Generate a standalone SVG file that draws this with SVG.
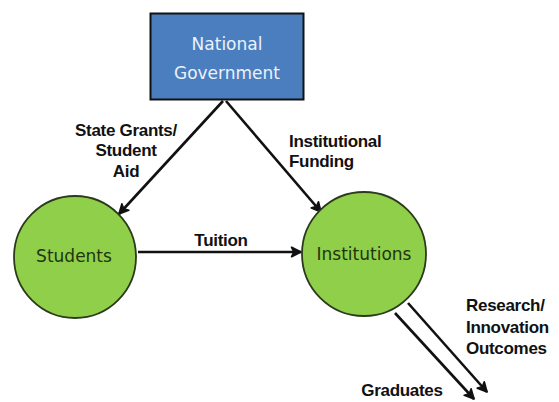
<svg xmlns="http://www.w3.org/2000/svg" width="559" height="402" viewBox="0 0 559 402">
<style>
.lbl{font-family:"Liberation Sans",Arial,sans-serif;font-weight:bold;fill:#111;font-size:17px;letter-spacing:-0.3px}
.node{font-family:"DejaVu Sans",Verdana,sans-serif;font-size:17px;text-anchor:middle}
.circ{fill:#8fcf4a;stroke:#2c3a1c;stroke-width:1.8}
.conn{stroke:#111;stroke-width:2.6;fill:none;marker-end:url(#ah)}
</style>
<defs>
<marker id="ah" viewBox="0 0 10 10" refX="9" refY="5" markerWidth="4.5" markerHeight="4.5" orient="auto" markerUnits="strokeWidth">
<path d="M1,1 L9,5 L1,9 L3,5 Z" fill="#111" stroke="#111" stroke-width="1.5" stroke-linejoin="round"/>
</marker>
</defs>
<rect width="559" height="402" fill="#fff"/>
<g id="connectors">
<line class="conn" x1="223" y1="101" x2="119" y2="214"/>
<line class="conn" x1="226" y1="101" x2="321" y2="212"/>
<line class="conn" x1="138" y1="252" x2="301" y2="252"/>
<line class="conn" x1="408" y1="303" x2="487" y2="392"/>
<line class="conn" x1="395" y1="313" x2="474" y2="399"/>
</g>
<g id="labels">
<text class="lbl" text-anchor="middle" x="126" y="136">State Grants/</text>
<text class="lbl" text-anchor="middle" x="126" y="156">Student</text>
<text class="lbl" text-anchor="middle" x="126" y="177">Aid</text>
<text class="lbl" x="289" y="147" font-size="15.5">Institutional</text>
<text class="lbl" x="289" y="167" font-size="15.5">Funding</text>
<text class="lbl" text-anchor="middle" x="221" y="246">Tuition</text>
<text class="lbl" x="466" y="311">Research/</text>
<text class="lbl" x="466" y="333">Innovation</text>
<text class="lbl" x="466" y="354">Outcomes</text>
<text class="lbl" text-anchor="middle" x="402" y="396">Graduates</text>
</g>
<g id="national-government">
<rect x="150.5" y="13.5" width="153" height="86" fill="#4a7ebf" stroke="#111" stroke-width="2"/>
<text class="node" x="227" y="50" font-size="19" fill="#eaf2fb">National</text>
<text class="node" x="227" y="79" font-size="19" fill="#eaf2fb">Government</text>
</g>
<g id="students">
<circle class="circ" cx="75" cy="257" r="61"/>
<text class="node" x="74" y="262" fill="#1f3510">Students</text>
</g>
<g id="institutions">
<circle class="circ" cx="364" cy="254" r="62"/>
<text class="node" x="364" y="260" fill="#1f3510">Institutions</text>
</g>
</svg>
